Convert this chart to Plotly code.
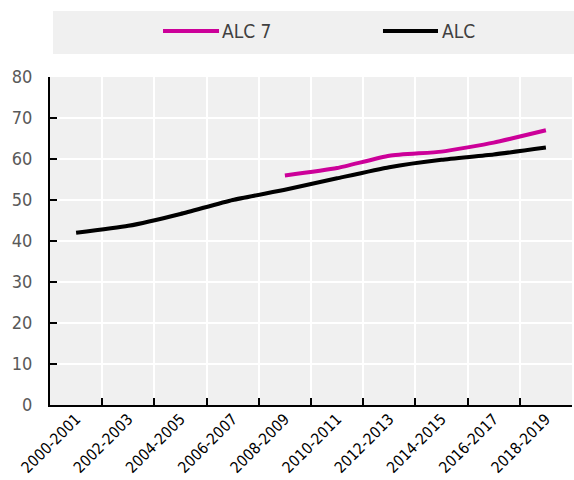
import plotly.graph_objects as go

# School years on the x axis
periods = ["2000-2001", "2002-2003", "2004-2005", "2006-2007", "2008-2009",
           "2010-2011", "2012-2013", "2014-2015", "2016-2017", "2018-2019"]

# Series values (no ALC 7 data before 2008-2009)
alc7 = [None, None, None, None, 56.0, 57.8, 60.8, 61.8, 64.0, 67.0]
alc = [42.0, 43.7, 46.6, 50.0, 52.5, 55.3, 58.0, 59.8, 61.1, 62.8]

series_names = ["ALC 7", "ALC"]
series_colors = ["#cc0099", "#000000"]

FONT = "DejaVu Sans Condensed, Liberation Sans, sans-serif"
GRID_BG = "#f0f0f0"

fig = go.Figure()
for name, vals, col in zip(series_names, [alc7, alc], series_colors):
    fig.add_trace(go.Scatter(
        x=periods, y=vals, name=name, mode="lines",
        line=dict(color=col, width=4, shape="spline", smoothing=0.5),
        connectgaps=False, showlegend=False,
    ))

# Legend band across the top, drawn in paper coordinates
shapes = [dict(type="rect", xref="paper", yref="paper",
               x0=0.0057, x1=1.01, y0=1.070, y1=1.201,
               fillcolor=GRID_BG, line=dict(width=0), layer="below")]
annotations = []
legend_x = [(0.2165, 0.3238, 0.3295), (0.6379, 0.7433, 0.751)]
for name, col, (lx0, lx1, tx) in zip(series_names, series_colors, legend_x):
    shapes.append(dict(type="line", xref="paper", yref="paper",
                       x0=lx0, x1=lx1, y0=1.140, y1=1.140,
                       line=dict(color=col, width=4)))
    annotations.append(dict(xref="paper", yref="paper", x=tx, y=1.140,
                            text=name, showarrow=False, xanchor="left",
                            yanchor="middle", xshift=-2,
                            font=dict(family=FONT, size=19, color="#404040")))

fig.update_layout(
    width=574, height=480,
    margin=dict(l=50, r=2, t=77, b=75),
    paper_bgcolor="white", plot_bgcolor=GRID_BG,
    shapes=shapes, annotations=annotations,
    showlegend=False,
    font=dict(family=FONT),
)
fig.update_xaxes(
    type="category", tickson="boundaries", ticks="inside", ticklen=7,
    tickwidth=2, tickcolor="black",
    showline=True, linecolor="black", linewidth=2,
    showgrid=True, gridcolor="white", gridwidth=2,
    tickangle=-45, tickfont=dict(family=FONT, size=15.5, color="black"),
    range=[-0.5, 9.5], automargin=False, ticklabelstandoff=-3,
)
fig.update_yaxes(
    range=[0, 80], dtick=10, ticks="inside", ticklen=7, tickwidth=2,
    tickcolor="black", showline=True, linecolor="black", linewidth=2,
    showgrid=True, gridcolor="white", gridwidth=2, zeroline=False,
    tickfont=dict(family=FONT, size=18, color="#595959"),
    ticklabelstandoff=12, automargin=False,
)

fig.write_html("out.html")
